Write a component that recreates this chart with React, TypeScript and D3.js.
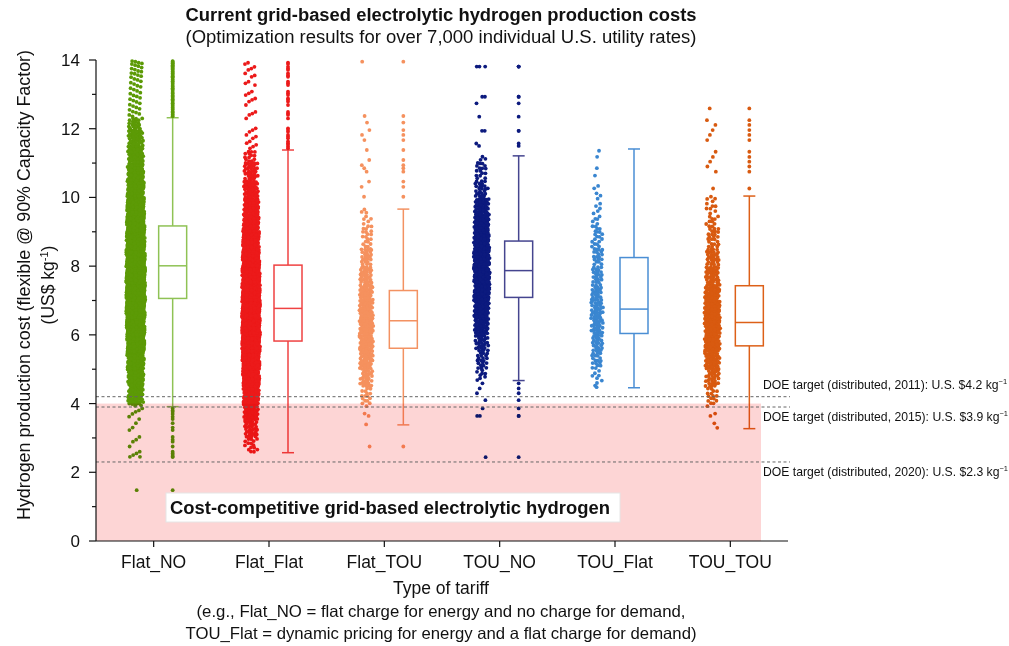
import React, { useMemo } from "react";
import * as d3 from "d3";

// ---------- data ----------
const categories = ["Flat_NO", "Flat_Flat", "Flat_TOU", "TOU_NO", "TOU_Flat", "TOU_TOU"];
const q1Values = [7.06, 5.82, 5.61, 7.09, 6.04, 5.68];
const medianValues = [8.01, 6.77, 6.41, 7.87, 6.75, 6.36];
const q3Values = [9.17, 8.03, 7.29, 8.73, 8.25, 7.43];
const whiskerLowValues = [3.91, 2.57, 3.38, 4.67, 4.46, 3.27];
const whiskerHighValues = [12.32, 11.38, 9.66, 11.21, 11.41, 10.04];

const outliersFlatNO = [
  12.36, 12.4, 12.43, 12.47, 12.5, 12.55, 12.58, 12.62, 12.66, 12.7, 12.74, 12.78, 12.82, 12.86, 12.9,
  12.94, 12.97, 13.02, 13.05, 13.1, 13.14, 13.18, 13.22, 13.25, 13.3, 13.34, 13.38, 13.42, 13.45, 13.5,
  13.53, 13.56, 13.6, 13.62, 13.66, 13.68, 13.72, 13.75, 13.78, 13.82, 13.85, 13.88, 13.9, 13.92, 13.95, 13.97,
  3.86, 3.8, 3.76, 3.7, 3.62, 3.55, 3.43, 3.3, 3.23, 3.03, 2.95, 2.89, 2.75, 2.6, 2.55, 2.5, 2.45, 2.45, 1.48,
];
const outliersFlatFlat = [
  13.92, 13.88, 13.8, 13.75, 13.71, 13.61, 13.55, 13.51, 13.37, 13.32, 13.27, 13.08, 13.03, 12.98, 12.88,
  12.84, 12.79, 12.69, 12.49, 12.44, 12.4, 12.3, 12.01, 11.96, 11.91, 11.82, 11.77, 11.72, 11.63, 11.58,
  11.53, 11.48, 11.43,
];
const outliersFlatTOU = [
  10.02, 10.31, 10.46, 10.75, 10.85, 10.94, 11.09, 11.38, 11.67, 11.82, 11.96, 12.18, 12.37, 13.95, 2.75,
];
const outliersTOUNO = [
  11.5, 11.57, 11.94, 11.94, 12.35, 12.74, 12.93, 12.93, 13.81, 13.81, 13.81,
  4.59, 4.44, 4.3, 4.1, 3.86, 3.64, 3.64, 2.44,
];
const outliersTOUFlat: number[] = [];
const outliersTOUTOU = [
  12.59, 12.25, 12.11, 11.96, 11.82, 11.67, 11.33, 11.18, 11.04, 10.9, 10.75, 10.26,
];

// number of points per 0.5-unit bin (0–14) between the whiskers
const binWidth = 0.5;
const binsFlatNO = [0, 0, 0, 0, 0, 0, 0, 5, 60, 90, 120, 150, 180, 210, 230, 230, 210, 190, 170, 140, 110, 90, 70, 50, 20, 0, 0, 0];
const binsFlatFlat = [0, 0, 0, 0, 0, 15, 35, 60, 100, 140, 180, 210, 220, 220, 210, 190, 160, 130, 100, 80, 55, 35, 15, 0, 0, 0, 0, 0];
const binsFlatTOU = [0, 0, 0, 0, 0, 0, 1, 3, 15, 30, 45, 55, 60, 55, 45, 35, 25, 15, 10, 3, 0, 0, 0, 0, 0, 0, 0, 0];
const binsTOUNO = [0, 0, 0, 0, 0, 0, 0, 0, 0, 8, 20, 30, 50, 70, 90, 100, 100, 90, 70, 50, 25, 15, 4, 0, 0, 0, 0, 0];
const binsTOUFlat = [0, 0, 0, 0, 0, 0, 0, 0, 1, 8, 18, 25, 30, 30, 25, 22, 18, 15, 10, 6, 4, 2, 2, 0, 0, 0, 0, 0];
const binsTOUTOU = [0, 0, 0, 0, 0, 0, 2, 3, 15, 30, 50, 65, 75, 70, 55, 40, 30, 20, 15, 10, 1, 0, 0, 0, 0, 0, 0, 0];

const allBins = [binsFlatNO, binsFlatFlat, binsFlatTOU, binsTOUNO, binsTOUFlat, binsTOUTOU];
const allOutliers = [outliersFlatNO, outliersFlatFlat, outliersFlatTOU, outliersTOUNO, outliersTOUFlat, outliersTOUTOU];

const yTicks = [0, 2, 4, 6, 8, 10, 12, 14];
const targets = [
  { value: 4.2, year: "2011", price: "$4.2" },
  { value: 3.9, year: "2015", price: "$3.9" },
  { value: 2.3, year: "2020", price: "$2.3" },
];
const competitiveLimit = 4.0;

// ---------- styles ----------
const pointColors = ["#5c9a06", "#ec1a1a", "#f5915e", "#0c1a7e", "#3a86d0", "#d85a10"];
const boxColors = ["#8fc255", "#ef4242", "#f39262", "#45458f", "#4a8ed4", "#dd6018"];
const jitterWidths = [19, 18, 14, 16, 12, 16];
const FONT = "'Liberation Sans', Arial, sans-serif";

const W = 1009;
const H = 646;
const left = 96;
const right = 788;
const top = 60;
const bottom = 541;

const A1 = 0.7548776662466927;
const A2 = 0.5698402909980532;

export default function App() {
  const x = d3.scaleBand<string>().domain(categories).range([left, right]).padding(0);
  const y = d3.scaleLinear().domain([0, 14]).range([bottom, top]);
  const bw = x.bandwidth();
  const cx = (c: string) => (x(c) as number) + bw / 2;

  const points = useMemo(() => {
    const out: { cat: number; v: number; dx: number }[] = [];
    categories.forEach((c, ci) => {
      const bins = allBins[ci];
      const lo = whiskerLowValues[ci];
      const hi = whiskerHighValues[ci];
      const peak = d3.max(bins) as number;
      bins.forEach((n, bi) => {
        if (!n) return;
        const a = Math.max(bi * binWidth, lo);
        const b = Math.min((bi + 1) * binWidth, hi);
        const w = jitterWidths[ci] * (0.6 + 0.4 * Math.sqrt(n / peak));
        for (let j = 0; j < n; j++) {
          const fx = (0.5 + (j + 1) * A1 + bi * 0.311 + ci * 0.17) % 1;
          const fy = (0.5 + (j + 1) * A2 + bi * 0.173) % 1;
          const s = 2 * fx - 1;
          const dx = Math.sign(s) * Math.pow(Math.abs(s), 1.25) * (w / 2);
          out.push({ cat: ci, v: a + fy * (b - a), dx });
        }
      });
      allOutliers[ci].forEach((v, j) => {
        const fx = ((j + 3) * A1) % 1;
        out.push({ cat: ci, v, dx: (fx - 0.5) * jitterWidths[ci] * 0.7 });
      });
    });
    return out;
  }, []);

  const minorTicks = d3.range(1, 14, 2);
  const scatterOffset = -18;
  const boxOffset = 19;
  const boxW = 28;
  const capW = 12;

  return (
    <svg width={W} height={H} style={{ position: "absolute", left: 0, top: 0, background: "#fff" }} fontFamily={FONT}>
      {/* title */}
      <text x={441} y={21} textAnchor="middle" fontSize={18} fontWeight="bold" fill="#111" textLength={511} lengthAdjust="spacingAndGlyphs">
        Current grid-based electrolytic hydrogen production costs
      </text>
      <text x={441} y={43} textAnchor="middle" fontSize={18} fill="#111" textLength={511} lengthAdjust="spacingAndGlyphs">
        (Optimization results for over 7,000 individual U.S. utility rates)
      </text>

      {/* scatter points */}
      <g>
        {points.map((p, i) => (
          <circle key={i} cx={cx(categories[p.cat]) + scatterOffset + p.dx} cy={y(p.v)} r={1.9} fill={pointColors[p.cat]} />
        ))}
      </g>

      {/* box plots */}
      {categories.map((c, ci) => {
        const bx = cx(c) + boxOffset;
        const col = boxColors[ci];
        return (
          <g key={c} stroke={col} strokeWidth={1.5} fill="none">
            <line x1={bx} x2={bx} y1={y(whiskerHighValues[ci])} y2={y(q3Values[ci])} />
            <line x1={bx} x2={bx} y1={y(q1Values[ci])} y2={y(whiskerLowValues[ci])} />
            <line x1={bx - capW / 2} x2={bx + capW / 2} y1={y(whiskerHighValues[ci])} y2={y(whiskerHighValues[ci])} />
            <line x1={bx - capW / 2} x2={bx + capW / 2} y1={y(whiskerLowValues[ci])} y2={y(whiskerLowValues[ci])} />
            <rect x={bx - boxW / 2} y={y(q3Values[ci])} width={boxW} height={y(q1Values[ci]) - y(q3Values[ci])} fill="#fff" />
            <line x1={bx - boxW / 2} x2={bx + boxW / 2} y1={y(medianValues[ci])} y2={y(medianValues[ci])} />
            {allOutliers[ci].map((v, j) => (
              <circle key={j} cx={bx} cy={y(v)} r={1.9} fill={pointColors[ci]} stroke="none" />
            ))}
          </g>
        );
      })}

      {/* cost-competitive region */}
      <rect
        x={left}
        y={y(competitiveLimit)}
        width={761 - left}
        height={y(0) - y(competitiveLimit)}
        fill="#fdd5d5"
        style={{ mixBlendMode: "multiply" }}
      />

      {/* DOE targets */}
      {targets.map((t, i) => (
        <line key={i} x1={left} x2={right + 2} y1={y(t.value)} y2={y(t.value)} stroke="#666" strokeWidth={1} strokeDasharray="3,2.5" />
      ))}
      {targets.map((t, i) => (
        <text key={i} x={763} y={y(t.value) + (i === 0 ? -8 : 14)} fontSize={12.2} fill="#111">
          DOE target (distributed, {t.year}): U.S. {t.price} kg
          <tspan fontSize={7.5} dy={-5}>−1</tspan>
        </text>
      ))}

      {/* annotation */}
      <rect x={166} y={493} width={454} height={29} fill="#fff" stroke="#e6e6e6" strokeWidth={1} />
      <text x={390} y={514} textAnchor="middle" fontSize={17.5} fontWeight="bold" fill="#111" textLength={440} lengthAdjust="spacingAndGlyphs">
        Cost-competitive grid-based electrolytic hydrogen
      </text>

      {/* y axis */}
      <g stroke="#111" strokeWidth={1.2}>
        <line x1={left} x2={left} y1={top} y2={bottom} />
        {yTicks.map((t) => (
          <line key={t} x1={left - 7} x2={left} y1={y(t)} y2={y(t)} />
        ))}
        {minorTicks.map((t) => (
          <line key={t} x1={left - 4} x2={left} y1={y(t)} y2={y(t)} />
        ))}
      </g>
      {yTicks.map((t) => (
        <text key={t} x={80} y={y(t)} dy="0.35em" textAnchor="end" fontSize={17} fill="#111">
          {t}
        </text>
      ))}

      {/* x axis */}
      <g stroke="#111" strokeWidth={1.2}>
        <line x1={left} x2={right} y1={bottom} y2={bottom} />
        {categories.map((c) => (
          <line key={c} x1={cx(c)} x2={cx(c)} y1={bottom} y2={bottom + 6} />
        ))}
      </g>
      {categories.map((c) => (
        <text key={c} x={cx(c)} y={568} textAnchor="middle" fontSize={17.5} fill="#111">
          {c}
        </text>
      ))}

      {/* axis titles */}
      <text x={441} y={594} textAnchor="middle" fontSize={17.5} fill="#111">
        Type of tariff
      </text>
      <text x={441} y={617} textAnchor="middle" fontSize={16.5} fill="#111" textLength={489} lengthAdjust="spacingAndGlyphs">
        (e.g., Flat_NO = flat charge for energy and no charge for demand,
      </text>
      <text x={441} y={639} textAnchor="middle" fontSize={16.5} fill="#111" textLength={511} lengthAdjust="spacingAndGlyphs">
        TOU_Flat = dynamic pricing for energy and a flat charge for demand)
      </text>

      <g transform="translate(0,285) rotate(-90)">
        <text x={0} y={30} textAnchor="middle" fontSize={17.5} fill="#111" textLength={470} lengthAdjust="spacingAndGlyphs">
          Hydrogen production cost (flexible @ 90% Capacity Factor)
        </text>
        <text x={0} y={54} textAnchor="middle" fontSize={17.5} fill="#111">
          (US$ kg<tspan fontSize={11} dy={-6}>-1</tspan><tspan dy={6}>)</tspan>
        </text>
      </g>
    </svg>
  );
}
